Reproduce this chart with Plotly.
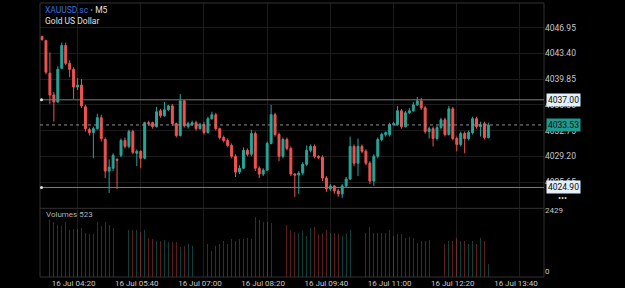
import plotly.graph_objects as go
import pandas as pd

# ---- data ----
start_time = "2025-07-16 03:35"
n_candles = 114
opens = [4045.72,4045.17,4040.67,4037.67,4036.71,4041.35,4044.49,4042.03,4041.21,4038.76,
         4039.03,4036.03,4032.89,4032.48,4033.02,4034.53,4031.52,4027.16,4027.56,4028.79,
         4029.34,4031.39,4030.57,4032.62,4029.61,4029.89,4028.93,4033.84,4033.84,4033.30,
         4035.48,4034.80,4035.62,4036.16,4033.71,4032.07,4036.85,4033.30,4033.57,4033.84,
         4033.02,4033.57,4032.48,4034.39,4034.94,4033.02,4031.80,4031.39,4030.70,4029.20,
         4027.02,4027.56,4030.02,4029.48,4032.34,4027.56,4026.75,4027.29,4030.98,4034.94,
         4032.21,4029.20,4031.52,4030.29,4026.75,4026.61,4026.88,4028.11,4030.02,4030.57,
         4029.20,4029.07,4026.20,4024.70,4025.11,4024.43,4024.02,4025.11,4026.06,4030.57,
         4028.25,4030.57,4029.89,4028.25,4025.79,4029.20,4031.52,4032.21,4032.21,4033.57,
         4033.57,4035.48,4033.30,4035.21,4035.48,4036.30,4036.85,4035.89,4032.62,4033.02,
         4031.66,4033.16,4034.25,4032.21,4035.75,4031.66,4030.84,4032.34,4031.66,4032.48,
         4034.39,4033.30,4033.71,4031.80]
closes = [4045.31,4040.81,4037.67,4036.71,4041.21,4044.49,4042.03,4041.21,4038.76,4039.03,
          4036.16,4033.02,4032.48,4033.02,4034.53,4031.66,4027.16,4027.70,4029.34,4028.66,
          4031.39,4030.57,4032.62,4029.75,4029.89,4028.93,4033.84,4033.71,4033.30,4035.35,
          4034.80,4035.62,4036.16,4033.71,4032.07,4036.85,4033.43,4033.71,4033.84,4033.02,
          4033.57,4032.48,4034.39,4034.94,4033.02,4031.80,4031.39,4030.70,4029.20,4027.02,
          4027.56,4030.02,4029.48,4032.34,4027.56,4026.75,4027.29,4030.98,4034.94,4032.21,
          4029.20,4031.52,4030.29,4026.75,4026.61,4026.88,4028.11,4030.02,4030.57,4029.20,
          4029.07,4026.20,4024.70,4025.11,4024.43,4024.02,4025.11,4026.06,4030.57,4028.25,
          4030.57,4029.89,4028.25,4025.79,4029.20,4031.52,4032.21,4032.48,4033.57,4033.71,
          4035.48,4033.30,4035.21,4035.48,4036.30,4036.85,4035.89,4032.62,4033.02,4031.66,
          4033.16,4034.25,4032.21,4035.75,4031.66,4030.84,4032.34,4031.66,4032.48,4034.39,
          4033.30,4033.57,4031.80,4033.53]
highs = [4045.86,4045.31,4043.54,4038.08,4041.62,4044.90,4044.90,4042.44,4041.49,4039.99,
         4039.85,4036.30,4033.16,4033.30,4035.07,4034.94,4031.80,4028.79,4029.61,4028.93,
         4031.66,4031.80,4032.89,4032.89,4030.16,4030.02,4033.98,4034.12,4033.98,4036.03,
         4035.75,4036.71,4036.30,4036.44,4033.84,4037.80,4036.98,4033.98,4034.12,4034.12,
         4033.84,4033.98,4034.66,4035.35,4035.21,4033.16,4032.07,4031.66,4030.98,4029.48,
         4027.97,4030.43,4030.29,4032.89,4032.62,4027.84,4027.56,4031.25,4036.30,4035.21,
         4032.48,4031.80,4031.80,4030.57,4026.88,4027.16,4028.38,4030.70,4030.84,4030.84,
         4029.34,4029.34,4026.47,4025.38,4025.24,4024.70,4025.38,4026.34,4031.93,4030.84,
         4031.66,4030.84,4030.16,4028.52,4029.48,4031.80,4032.48,4032.62,4033.84,4033.98,
         4036.16,4035.75,4035.48,4035.89,4036.71,4037.39,4037.26,4036.16,4033.30,4033.30,
         4033.43,4034.53,4034.53,4036.16,4036.03,4031.93,4032.62,4032.62,4032.75,4034.66,
         4034.66,4033.98,4033.98,4033.84]
lows = [4045.17,4040.53,4036.44,4033.98,4036.57,4041.21,4041.76,4040.12,4037.12,4038.35,
        4035.89,4032.62,4032.07,4028.93,4032.89,4031.25,4026.20,4024.15,4027.16,4024.70,
        4029.07,4030.29,4030.29,4029.48,4027.84,4027.56,4028.79,4033.43,4033.02,4033.16,
        4034.53,4034.66,4035.48,4033.43,4031.80,4031.93,4033.16,4033.02,4033.43,4032.75,
        4032.89,4032.21,4032.34,4034.25,4032.75,4031.52,4031.11,4030.43,4028.93,4026.34,
        4026.75,4027.43,4029.20,4029.20,4027.16,4026.20,4026.47,4027.16,4030.84,4031.93,
        4028.52,4028.93,4030.02,4026.47,4023.61,4024.02,4026.61,4027.84,4029.75,4028.93,
        4028.79,4025.79,4024.29,4024.43,4024.02,4023.61,4023.47,4024.83,4025.93,4027.84,
        4026.47,4029.61,4027.97,4025.38,4025.11,4028.93,4031.25,4031.93,4031.93,4033.43,
        4033.43,4033.02,4033.16,4035.07,4035.35,4036.16,4035.62,4032.34,4031.66,4030.57,
        4031.39,4032.89,4031.93,4032.07,4031.39,4029.89,4030.57,4029.61,4031.39,4032.21,
        4033.02,4031.93,4031.52,4031.66]
volumes = [2250,2200,2265,2200,2072,2040,2200,1880,1900,1900,
           1940,1750,1720,1690,2200,2010,2180,2070,1940,1750,
           1780,1690,1850,1880,1850,1780,1850,1560,1500,1430,
           1450,1470,1380,1380,1380,1200,1240,1300,1240,1240,
           1240,1220,1300,1040,1240,1300,1430,1300,1520,1430,
           1500,1500,1540,1500,2390,2270,2200,2170,2150,2170,
           2230,2330,2070,1880,1780,1750,1810,1620,1940,2000,
           1690,1750,1880,1750,1750,1690,1620,1750,1880,1750,
           1880,2170,1750,2000,1750,1750,1750,1750,1880,1620,
           1690,1690,1560,1580,1560,1360,1430,1430,1490,1750,
           1690,1490,1300,1430,1430,1560,1430,1430,1300,1430,
           1300,1560,1430,523]
price_ticks = [4025.65, 4029.20, 4032.75, 4036.30, 4039.85, 4043.40, 4046.95]
volume_ticks = [0, 2429]
time_ticks = ["2025-07-16 04:20", "2025-07-16 05:40", "2025-07-16 07:00", "2025-07-16 08:20",
              "2025-07-16 09:40", "2025-07-16 11:00", "2025-07-16 12:20", "2025-07-16 13:40"]
level_high = 4037.00
level_low = 4024.90
last_price = 4033.53
symbol = "XAUUSD.sc"
timeframe = "M5"
description = "Gold US Dollar"
volume_label = "Volumes 523"

# ---- figure ----
times = pd.date_range(start_time, periods=n_candles, freq="5min")
UP = "#26a69a"
DN = "#ef5350"
vol_colors = ["rgba(38,166,154,0.38)" if c >= o else "rgba(239,83,80,0.38)" for o, c in zip(opens, closes)]

fig = go.Figure()
fig.add_trace(go.Candlestick(
    x=times, open=opens, high=highs, low=lows, close=closes,
    increasing=dict(line=dict(color=UP, width=1), fillcolor=UP),
    decreasing=dict(line=dict(color=DN, width=1), fillcolor=DN),
    whiskerwidth=0, xaxis="x", yaxis="y", showlegend=False, hoverinfo="skip"))
fig.add_trace(go.Bar(
    x=times, y=volumes, marker=dict(color=vol_colors, line=dict(width=0)),
    width=65000, xaxis="x", yaxis="y2", showlegend=False, hoverinfo="skip"))

FONT = "Roboto, Arial, sans-serif"
GRID = "#1c1c1c"
BORDER = "#333333"
W, H = 625, 288
ML, MR, MT, MB = 40, 81, 0, 11
ph = H - MT - MB
split = 1 - 207 / ph

fig.update_layout(
    width=W, height=H, margin=dict(l=ML, r=MR, t=MT, b=MB),
    paper_bgcolor="#000000", plot_bgcolor="#000000",
    boxgap=0.3, bargap=0,
    font=dict(family=FONT, size=8, color="#c0c0c0"),
    xaxis=dict(
        type="date", anchor="y2", domain=[0, 1],
        range=["2025-07-16 03:32:28", "2025-07-16 14:10:25"],
        rangeslider=dict(visible=False),
        tickvals=time_ticks, tickformat="%d %b %H:%M",
        tickfont=dict(size=8, color="#c8c8c8", family=FONT),
        showgrid=True, gridcolor=GRID, gridwidth=1, zeroline=False,
        ticks="", showline=False, ticklabelshift=-4),
    yaxis=dict(
        domain=[split, 1], side="right", range=[4022.10, 4050.36],
        tickvals=price_ticks, tickformat=".2f",
        tickfont=dict(size=8.5, color="#c8c8c8", family=FONT),
        showgrid=True, gridcolor=GRID, zeroline=False, ticks="", ticklen=0),
    yaxis2=dict(
        domain=[0, split - 0.004], side="right", range=[0, 2700],
        tickvals=volume_ticks, tickformat="d",
        tickfont=dict(size=8, color="#c8c8c8", family=FONT),
        showgrid=False, zeroline=False, ticks="", ticklabelposition="outside top"),
)

shapes = []
# pane borders
shapes.append(dict(type="rect", xref="paper", yref="paper", x0=0, x1=1, y0=0, y1=1,
                   line=dict(color=BORDER, width=1), layer="above"))
shapes.append(dict(type="line", xref="paper", yref="paper", x0=0, x1=1, y0=split - 0.002, y1=split - 0.002,
                   line=dict(color=BORDER, width=1)))
# horizontal levels
for lv in (level_high, level_low):
    shapes.append(dict(type="line", xref="paper", yref="y", x0=0, x1=1, y0=lv, y1=lv,
                       line=dict(color="#7c7c7c", width=1)))
    shapes.append(dict(type="circle", xref="paper", yref="y", xsizemode="pixel", ysizemode="pixel",
                       xanchor=0.003, x0=-1.5, x1=1.5, yanchor=lv, y0=-1.5, y1=1.5,
                       fillcolor="#e0e0e0", line=dict(width=0)))
shapes.append(dict(type="line", xref="paper", yref="y", x0=0, x1=1, y0=last_price, y1=last_price,
                   line=dict(color="#8f8f8f", width=1, dash="dot")))
fig.update_layout(shapes=shapes)

ann = []
def tag(price, bg, fg):
    return dict(xref="paper", yref="y", x=1, y=price, xanchor="left", yanchor="middle", xshift=2,
                text=f"{price:.2f}", showarrow=False, bgcolor=bg, borderpad=1,
                font=dict(size=8.5, color=fg, family=FONT))
ann.append(tag(level_high, "#e3f0fb", "#0b0b0b"))
ann.append(tag(last_price, "#1f9a8f", "#0b0b0b"))
ann.append(tag(level_low, "#e3f0fb", "#0b0b0b"))
ann.append(dict(xref="paper", yref="paper", x=3 / 504, y=1 - 7 / ph, xanchor="left", yanchor="middle",
                text=f"<span style='color:#3a6fe0'>{symbol}</span> <span style='color:#3a6fe0'>•</span> {timeframe}",
                showarrow=False, font=dict(size=8.5, color="#e0e0e0", family=FONT)))
ann.append(dict(xref="paper", yref="paper", x=3 / 504, y=1 - 18 / ph, xanchor="left", yanchor="middle",
                text=description, showarrow=False, font=dict(size=8.5, color="#e0e0e0", family=FONT)))
ann.append(dict(xref="paper", yref="paper", x=4 / 504, y=1 - 214 / ph, xanchor="left", yanchor="middle",
                text=volume_label, showarrow=False, font=dict(size=8, color="#b0b0b0", family=FONT)))
ann.append(dict(xref="paper", yref="paper", x=1 + 18 / 504, y=1 - 197 / ph, xanchor="center", yanchor="middle",
                text="•••", showarrow=False, font=dict(size=9, color="#d8d8d8", family=FONT)))
fig.update_layout(annotations=ann)

fig.write_html("out.html")
